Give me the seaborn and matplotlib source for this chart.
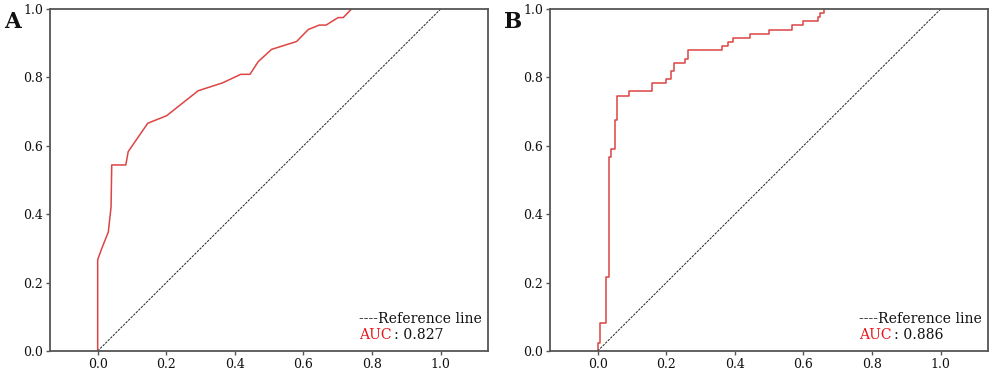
import matplotlib
matplotlib.use("Agg")
import matplotlib.pyplot as plt
import seaborn as sns
import pandas as pd

# ROC curve A (straight segments)
fpr_a = [0.0, 0.0, 0.012, 0.031, 0.039, 0.041, 0.041, 0.082, 0.089, 0.146, 0.201,
         0.293, 0.364, 0.417, 0.444, 0.468, 0.507, 0.580, 0.614, 0.646, 0.666,
         0.701, 0.716, 0.740]
tpr_a = [0.0, 0.267, 0.300, 0.348, 0.421, 0.544, 0.544, 0.544, 0.583, 0.666, 0.688,
         0.761, 0.784, 0.809, 0.809, 0.846, 0.882, 0.905, 0.940, 0.953, 0.953,
         0.975, 0.975, 1.0]

# ROC curve B (step curve, corners)
fpr_b = [0.0, 0.0, 0.007, 0.024, 0.033, 0.039, 0.050, 0.057, 0.092, 0.157, 0.198,
         0.214, 0.222, 0.255, 0.264, 0.362, 0.379, 0.395, 0.444, 0.500, 0.566,
         0.600, 0.641, 0.648, 0.660]
tpr_b = [0.0, 0.023, 0.083, 0.216, 0.567, 0.590, 0.675, 0.746, 0.760, 0.784, 0.794,
         0.819, 0.843, 0.855, 0.879, 0.892, 0.904, 0.915, 0.928, 0.940, 0.952,
         0.965, 0.977, 0.988, 1.0]

ref_x = [0.0, 1.0]
ref_y = [0.0, 1.0]

panels = ["A", "B"]
auc_values = ["0.827", "0.886"]
ticks = [0.0, 0.2, 0.4, 0.6, 0.8, 1.0]
tick_labels = ["0.0", "0.2", "0.4", "0.6", "0.8", "1.0"]

sns.set_theme(style="white")
plt.rcParams["font.family"] = ["DejaVu Serif"]

RED = "#dd4444"
AUC_RED = "#e8191e"
SPINE = "#555555"

fig = plt.figure(figsize=(10, 3.8), dpi=100)
axA = fig.add_axes([0.05, 0.0763, 0.438, 0.9])
axB = fig.add_axes([0.55, 0.0763, 0.438, 0.9])

curves = [(fpr_a, tpr_a, None), (fpr_b, tpr_b, "steps-post")]

for ax, (fx, ty, ds), label, auc in zip([axA, axB], curves, panels, auc_values):
    df = pd.DataFrame({"fpr": fx, "tpr": ty})
    kw = {}
    if ds:
        kw["drawstyle"] = ds
    sns.lineplot(data=df, x="fpr", y="tpr", ax=ax, sort=False, estimator=None,
                 color=RED, linewidth=1.1, **kw)
    sns.lineplot(x=ref_x, y=ref_y, ax=ax, color="#222222", linewidth=0.7,
                 linestyle=(0, (2.5, 1.2)))
    ax.set_xlim(-0.139, 1.138)
    ax.set_ylim(0, 1)
    ax.set_xticks(ticks)
    ax.set_xticklabels(tick_labels)
    ax.set_yticks(ticks)
    ax.set_yticklabels(tick_labels)
    ax.set_xlabel("")
    ax.set_ylabel("")
    ax.tick_params(axis="both", direction="out", length=3, width=1,
                   color=SPINE, labelsize=9, labelcolor="#111111", pad=2,
                   bottom=True, left=True)
    for s in ax.spines.values():
        s.set_color(SPINE)
        s.set_linewidth(1.3)
        s.set_visible(True)
    ax.text(0.705, 0.082, "----Reference line", transform=ax.transAxes,
            fontsize=10.1, color="#111111", ha="left", va="baseline")
    t = ax.text(0.705, 0.035, "AUC", transform=ax.transAxes,
                fontsize=10.1, color=AUC_RED, ha="left", va="baseline")
    ax.annotate(": " + auc, xy=(1, 0), xycoords=t, xytext=(2, 0),
                textcoords="offset points", fontsize=10.1, color="#111111",
                ha="left", va="bottom")
    pos = ax.get_position()
    fig.text(pos.x0 - 0.046, 0.926, label, fontsize=15.5, fontweight="bold",
             color="#111111", ha="left", va="baseline")

fig.savefig("out.png", dpi=100)
